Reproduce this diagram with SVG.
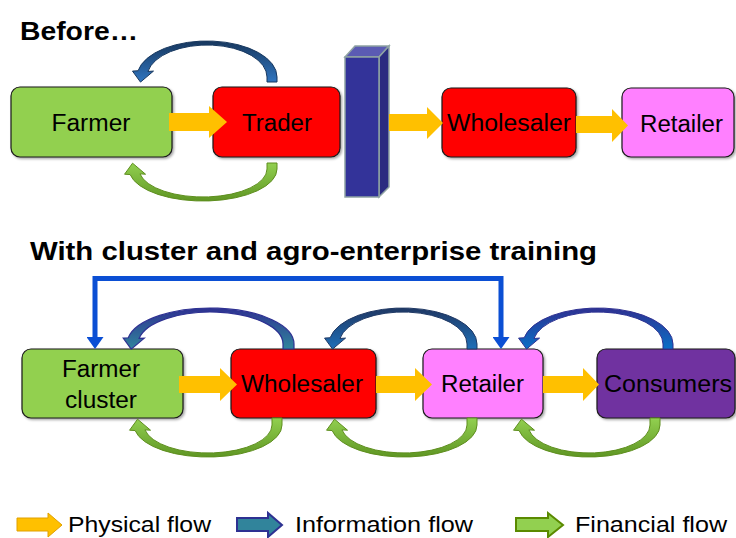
<svg xmlns="http://www.w3.org/2000/svg" width="736" height="538" viewBox="0 0 736 538">
<defs>
<style>
.box{stroke:#1a1a1a;stroke-width:1.2;filter:url(#sh)}
.lbl{font-family:"Liberation Sans",Arial,sans-serif;font-size:23px;fill:#000;text-anchor:middle}
.title{font-family:"Liberation Sans",Arial,sans-serif;font-size:25px;font-weight:bold;fill:#000}
.leg{font-family:"Liberation Sans",Arial,sans-serif;font-size:22px;fill:#000}
.phys{fill:#ffc000}
.fin{fill:url(#gFin);stroke:#5e8e1e;stroke-width:1}
</style>
<filter id="sh" x="-10%" y="-10%" width="125%" height="130%">
<feDropShadow dx="1.5" dy="1.5" stdDeviation="1.2" flood-color="#000" flood-opacity="0.35"/>
</filter>
<linearGradient id="gFin" x1="0" y1="0" x2="0" y2="1"><stop offset="0" stop-color="#92d050"/><stop offset="1" stop-color="#5f9623"/></linearGradient>
<linearGradient id="gInfoA" x1="0" y1="0" x2="0" y2="1"><stop offset="0" stop-color="#17375e"/><stop offset="1" stop-color="#2f75c0"/></linearGradient>
<linearGradient id="gInfoB" x1="0" y1="0" x2="0" y2="1"><stop offset="0" stop-color="#2e3192"/><stop offset="1" stop-color="#31859c"/></linearGradient>
<linearGradient id="gInfoC" x1="0" y1="0" x2="0" y2="1"><stop offset="0" stop-color="#1f3864"/><stop offset="1" stop-color="#1f6fb8"/></linearGradient>
<linearGradient id="gInfoD" x1="0" y1="0" x2="0" y2="1"><stop offset="0" stop-color="#2e3192"/><stop offset="1" stop-color="#0a70c6"/></linearGradient>
<marker id="ah" viewBox="0 0 12 17" refX="0" refY="8.5" markerWidth="12" markerHeight="17" markerUnits="userSpaceOnUse" orient="auto-start-reverse">
<path d="M0,0 L12,8.5 L0,17 Z" fill="#0b4fd4"/>
</marker>
</defs>

<rect width="736" height="538" fill="#ffffff"/>

<text class="title" x="20" y="40" textLength="118" lengthAdjust="spacingAndGlyphs">Before…</text>
<text class="title" x="30" y="260" textLength="567" lengthAdjust="spacingAndGlyphs">With cluster and agro-enterprise training</text>

<!-- Before row nodes -->
<g id="farmer">
<rect class="box" x="11" y="87" width="161" height="70" rx="9" fill="#92d050"/>
<text class="lbl" x="91" y="131" textLength="79" lengthAdjust="spacingAndGlyphs">Farmer</text>
</g>
<g id="trader">
<rect class="box" x="213" y="87" width="127" height="70" rx="9" fill="#ff0000"/>
<text class="lbl" x="277" y="131" textLength="70" lengthAdjust="spacingAndGlyphs">Trader</text>
</g>
<g id="barrier">
<polygon points="345,57 355,46 389,46 379,57" fill="#5b5bb3" stroke="#8fa3a3" stroke-width="1.5"/>
<polygon points="379,57 389,46 389,187 379,197" fill="#2b2b80" stroke="#8fa3a3" stroke-width="1.5"/>
<rect x="345" y="57" width="34" height="140" fill="#333399" stroke="#8fa3a3" stroke-width="1.5"/>
</g>
<g id="wholesaler1">
<rect class="box" x="442" y="88" width="134" height="69" rx="9" fill="#ff0000"/>
<text class="lbl" x="509" y="131" textLength="124" lengthAdjust="spacingAndGlyphs">Wholesaler</text>
</g>
<g id="retailer1">
<rect class="box" x="622" y="88" width="112" height="69" rx="9" fill="#ff80ff"/>
<text class="lbl" x="681.5" y="132" textLength="83" lengthAdjust="spacingAndGlyphs">Retailer</text>
</g>

<!-- After row nodes -->
<g id="farmercluster">
<rect class="box" x="22" y="349" width="161" height="69" rx="9" fill="#92d050"/>
<text class="lbl" x="101" y="377" textLength="78" lengthAdjust="spacingAndGlyphs">Farmer</text>
<text class="lbl" x="101" y="407.5" textLength="72" lengthAdjust="spacingAndGlyphs">cluster</text>
</g>
<g id="wholesaler2">
<rect class="box" x="231" y="349" width="145" height="69" rx="9" fill="#ff0000"/>
<text class="lbl" x="302" y="392" textLength="122" lengthAdjust="spacingAndGlyphs">Wholesaler</text>
</g>
<g id="retailer2">
<rect class="box" x="423" y="349" width="120" height="69" rx="9" fill="#ff80ff"/>
<text class="lbl" x="482.5" y="392" textLength="83" lengthAdjust="spacingAndGlyphs">Retailer</text>
</g>
<g id="consumers">
<rect class="box" x="597" y="349" width="138" height="69" rx="9" fill="#7030a0"/>
<text class="lbl" x="668" y="392" textLength="128" lengthAdjust="spacingAndGlyphs">Consumers</text>
</g>

<g id="connectors">
<!-- physical flow -->
<path class="phys" d="M169,113 H209 V106 L227,122 L209,138 V131 H169 Z"/>
<path class="phys" d="M389,114 H427 V107 L443,123 L427,139 V131 H389 Z"/>
<path class="phys" d="M576,116 H612 V109 L628,125.5 L612,142 V133 H576 Z"/>
<path class="phys" d="M179,376 H220 V368 L237,384.5 L220,401 V393 H179 Z"/>
<path class="phys" d="M376,376 H415 V368 L432,384.5 L415,401 V393 H376 Z"/>
<path class="phys" d="M543,376 H583 V368 L599,384.5 L583,401 V393 H543 Z"/>
<!-- information flow -->
<path d="M277,82 L277,77 A70 36 0 0 0 138.06,70.75 L132.49,71.1 L140.49,82.1 L153.49,71.1 L147.91,71.44 A60 32 0 0 1 267,77 L267,82 Z" fill="url(#gInfoA)" stroke="#17375e" stroke-width="1"/>
<path d="M294,349 L294,344 A83.5 36 0 0 0 128.27,337.75 L123.19,338.1 L131.19,349.1 L144.19,338.1 L139.1,338.44 A72.5 32 0 0 1 283,344 L283,349 Z" fill="url(#gInfoB)" stroke="#2e3192" stroke-width="1.2"/>
<path d="M477,349 L477,344 A74 36 0 0 0 330.12,337.75 L324.55,338.1 L332.55,349.1 L345.55,338.1 L339.97,338.44 A64 32 0 0 1 467,344 L467,349 Z" fill="url(#gInfoC)" stroke="#1f3864" stroke-width="1"/>
<path d="M673,349 L673,344 A75 36 0 0 0 524.14,337.75 L518.57,338.1 L526.57,349.1 L539.57,338.1 L533.99,338.44 A65 32 0 0 1 663,344 L663,349 Z" fill="url(#gInfoD)" stroke="#2e3192" stroke-width="1"/>
<path d="M95,337 V278.5 H501 V337" fill="none" stroke="#0b4fd4" stroke-width="5" marker-start="url(#ah)" marker-end="url(#ah)"/>
<!-- financial flow -->
<path class="fin" d="M277,163 L277,169 A74 32 0 0 1 130.12,174.56 L124.55,174.21 L132.55,163.2 L145.55,174.21 L139.97,173.86 A64 28 0 0 0 267,169 L267,163 Z"/>
<path class="fin" d="M282,418 L282,425 A74 32 0 0 1 135.12,430.56 L129.55,430.21 L137.55,419.2 L150.55,430.21 L144.97,429.86 A64 28 0 0 0 272,425 L272,418 Z"/>
<path class="fin" d="M477,418 L477,425 A73 32 0 0 1 332.11,430.56 L326.54,430.21 L334.54,419.2 L347.54,430.21 L341.96,429.86 A63 28 0 0 0 467,425 L467,418 Z"/>
<path class="fin" d="M660,418 L660,425 A71 32 0 0 1 519.08,430.56 L513.5,430.21 L521.5,419.2 L534.5,430.21 L528.93,429.86 A61 28 0 0 0 650,425 L650,418 Z"/>
</g>

<g id="legend">
<path d="M17,518 H48 V513 L62,525 L48,537 V531 H17 Z" fill="#ffc000" stroke="#e0a000" stroke-width="1"/>
<text class="leg" x="68" y="532" textLength="143" lengthAdjust="spacingAndGlyphs">Physical flow</text>
<path d="M237,518 H268 V513 L282,525 L268,537 V531 H237 Z" fill="#31849b" stroke="#2e3192" stroke-width="2"/>
<text class="leg" x="295" y="532" textLength="178" lengthAdjust="spacingAndGlyphs">Information flow</text>
<path d="M516,518 H548 V513 L563,525 L548,537 V531 H516 Z" fill="#92d050" stroke="#5a8a00" stroke-width="2"/>
<text class="leg" x="575" y="532" textLength="152" lengthAdjust="spacingAndGlyphs">Financial flow</text>
</g>
</svg>
